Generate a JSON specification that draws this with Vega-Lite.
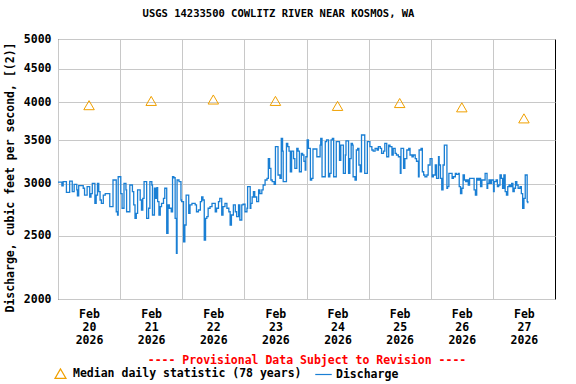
{
  "$schema": "https://vega.github.io/schema/vega-lite/v6.json",
  "width": 497,
  "height": 260,
  "autosize": "none",
  "padding": {"left": 58, "top": 39, "right": 21, "bottom": 85},
  "background": "white",
  "config": {
    "font": "DejaVu Sans Mono",
    "view": {"stroke": "#000000", "strokeWidth": 1},
    "axis": {"labelFont": "DejaVu Sans Mono", "labelFontWeight": "bold", "labelFontSize": 11.5, "labelColor": "#000000", "titleFont": "DejaVu Sans Mono", "titleFontWeight": "bold", "titleFontSize": 11.5, "titleColor": "#000000", "gridColor": "#c8c8c8", "gridOpacity": 1, "gridWidth": 1, "domain": false, "ticks": false},
    "legend": {"labelFont": "DejaVu Sans Mono", "labelFontWeight": "bold", "labelFontSize": 11.5, "labelColor": "#000000", "labelLimit": 0}
  },
  "title": {"text": "USGS 14233500 COWLITZ RIVER NEAR KOSMOS, WA", "font": "DejaVu Sans Mono", "fontWeight": "bold", "fontSize": 10.5, "color": "#000000", "anchor": "middle", "dx": -28, "offset": 14},
  "datasets": {
    "median": [
      {"t": "2026-02-20T12:00", "v": 3960, "s": "Median daily statistic (78 years)"},
      {"t": "2026-02-21T12:00", "v": 4020, "s": "Median daily statistic (78 years)"},
      {"t": "2026-02-22T12:00", "v": 4040, "s": "Median daily statistic (78 years)"},
      {"t": "2026-02-23T12:00", "v": 4020, "s": "Median daily statistic (78 years)"},
      {"t": "2026-02-24T12:00", "v": 3950, "s": "Median daily statistic (78 years)"},
      {"t": "2026-02-25T12:00", "v": 3990, "s": "Median daily statistic (78 years)"},
      {"t": "2026-02-26T12:00", "v": 3930, "s": "Median daily statistic (78 years)"},
      {"t": "2026-02-27T12:00", "v": 3780, "s": "Median daily statistic (78 years)"}
    ],
    "q": [
      {"t": "2026-02-20T00:00", "v": 3020}, {"t": "2026-02-20T01:30", "v": 2980}, {"t": "2026-02-20T02:00", "v": 3024}, {"t": "2026-02-20T03:15", "v": 2913},
      {"t": "2026-02-20T04:30", "v": 3031}, {"t": "2026-02-20T05:30", "v": 2920}, {"t": "2026-02-20T06:15", "v": 2996}, {"t": "2026-02-20T07:15", "v": 2937},
      {"t": "2026-02-20T07:30", "v": 2878}, {"t": "2026-02-20T08:00", "v": 2982}, {"t": "2026-02-20T09:45", "v": 2955}, {"t": "2026-02-20T10:15", "v": 2885},
      {"t": "2026-02-20T11:15", "v": 2971}, {"t": "2026-02-20T12:15", "v": 2865}, {"t": "2026-02-20T12:45", "v": 2900}, {"t": "2026-02-20T13:15", "v": 3006},
      {"t": "2026-02-20T14:15", "v": 2802}, {"t": "2026-02-20T14:45", "v": 2885}, {"t": "2026-02-20T15:15", "v": 3006}, {"t": "2026-02-20T15:45", "v": 2920},
      {"t": "2026-02-20T16:15", "v": 2835}, {"t": "2026-02-20T16:45", "v": 2802}, {"t": "2026-02-20T17:30", "v": 2885}, {"t": "2026-02-20T18:15", "v": 2900},
      {"t": "2026-02-20T20:00", "v": 2770}, {"t": "2026-02-20T21:15", "v": 3042}, {"t": "2026-02-20T22:30", "v": 2720}, {"t": "2026-02-20T23:00", "v": 2689},
      {"t": "2026-02-20T23:15", "v": 3077},
      {"t": "2026-02-21T00:15", "v": 2900}, {"t": "2026-02-21T00:45", "v": 2754}, {"t": "2026-02-21T01:30", "v": 3006}, {"t": "2026-02-21T02:15", "v": 2937},
      {"t": "2026-02-21T02:30", "v": 2720}, {"t": "2026-02-21T03:45", "v": 2989}, {"t": "2026-02-21T04:45", "v": 2920}, {"t": "2026-02-21T05:15", "v": 2786},
      {"t": "2026-02-21T05:45", "v": 2658}, {"t": "2026-02-21T06:15", "v": 2705}, {"t": "2026-02-21T06:45", "v": 2937}, {"t": "2026-02-21T07:45", "v": 2835},
      {"t": "2026-02-21T08:15", "v": 2737}, {"t": "2026-02-21T08:45", "v": 2852}, {"t": "2026-02-21T09:15", "v": 3024}, {"t": "2026-02-21T10:15", "v": 2658},
      {"t": "2026-02-21T11:00", "v": 2754}, {"t": "2026-02-21T11:30", "v": 3024}, {"t": "2026-02-21T12:15", "v": 2989}, {"t": "2026-02-21T12:30", "v": 2689},
      {"t": "2026-02-21T13:15", "v": 2955}, {"t": "2026-02-21T13:45", "v": 2852}, {"t": "2026-02-21T14:15", "v": 2961}, {"t": "2026-02-21T14:30", "v": 2818},
      {"t": "2026-02-21T15:00", "v": 2689}, {"t": "2026-02-21T15:30", "v": 2770}, {"t": "2026-02-21T16:00", "v": 2802}, {"t": "2026-02-21T16:45", "v": 2852},
      {"t": "2026-02-21T17:15", "v": 2955}, {"t": "2026-02-21T18:00", "v": 2521}, {"t": "2026-02-21T18:30", "v": 2786}, {"t": "2026-02-21T19:00", "v": 2754},
      {"t": "2026-02-21T19:45", "v": 2720}, {"t": "2026-02-21T20:15", "v": 3077}, {"t": "2026-02-21T20:45", "v": 3066}, {"t": "2026-02-21T21:15", "v": 2658},
      {"t": "2026-02-21T21:45", "v": 2350}, {"t": "2026-02-21T22:00", "v": 3042}, {"t": "2026-02-21T22:45", "v": 3024}, {"t": "2026-02-21T23:30", "v": 2835},
      {"t": "2026-02-21T23:45", "v": 2818},
      {"t": "2026-02-22T00:30", "v": 2447}, {"t": "2026-02-22T01:00", "v": 2596}, {"t": "2026-02-22T01:30", "v": 2885}, {"t": "2026-02-22T02:30", "v": 2705},
      {"t": "2026-02-22T03:00", "v": 2786}, {"t": "2026-02-22T03:45", "v": 2802}, {"t": "2026-02-22T05:00", "v": 2786}, {"t": "2026-02-22T05:30", "v": 2720},
      {"t": "2026-02-22T06:15", "v": 2737}, {"t": "2026-02-22T07:00", "v": 2818}, {"t": "2026-02-22T07:30", "v": 2865}, {"t": "2026-02-22T08:00", "v": 2835},
      {"t": "2026-02-22T08:30", "v": 2462}, {"t": "2026-02-22T09:00", "v": 2658}, {"t": "2026-02-22T09:30", "v": 2673}, {"t": "2026-02-22T10:00", "v": 2754},
      {"t": "2026-02-22T10:45", "v": 2770}, {"t": "2026-02-22T11:30", "v": 2802}, {"t": "2026-02-22T12:45", "v": 2720}, {"t": "2026-02-22T13:15", "v": 2754},
      {"t": "2026-02-22T14:00", "v": 2818}, {"t": "2026-02-22T14:30", "v": 2852}, {"t": "2026-02-22T15:15", "v": 2689}, {"t": "2026-02-22T15:45", "v": 2770},
      {"t": "2026-02-22T16:30", "v": 2802}, {"t": "2026-02-22T17:15", "v": 2754}, {"t": "2026-02-22T18:00", "v": 2720}, {"t": "2026-02-22T18:30", "v": 2596},
      {"t": "2026-02-22T19:00", "v": 2689}, {"t": "2026-02-22T19:45", "v": 2786}, {"t": "2026-02-22T20:30", "v": 2720}, {"t": "2026-02-22T21:00", "v": 2673},
      {"t": "2026-02-22T21:45", "v": 2786}, {"t": "2026-02-22T22:15", "v": 2642}, {"t": "2026-02-22T23:00", "v": 2786}, {"t": "2026-02-22T23:30", "v": 2793},
      {"t": "2026-02-23T00:15", "v": 2720}, {"t": "2026-02-23T01:00", "v": 2754}, {"t": "2026-02-23T01:15", "v": 2971}, {"t": "2026-02-23T02:15", "v": 2754},
      {"t": "2026-02-23T02:30", "v": 2802}, {"t": "2026-02-23T03:00", "v": 2865}, {"t": "2026-02-23T03:30", "v": 2920}, {"t": "2026-02-23T04:00", "v": 2865},
      {"t": "2026-02-23T04:45", "v": 2818}, {"t": "2026-02-23T05:30", "v": 2937}, {"t": "2026-02-23T06:00", "v": 2900}, {"t": "2026-02-23T06:45", "v": 2937},
      {"t": "2026-02-23T07:15", "v": 2989}, {"t": "2026-02-23T08:00", "v": 3042}, {"t": "2026-02-23T08:45", "v": 3060}, {"t": "2026-02-23T09:15", "v": 3280},
      {"t": "2026-02-23T09:45", "v": 3170}, {"t": "2026-02-23T10:15", "v": 3042}, {"t": "2026-02-23T10:45", "v": 3024}, {"t": "2026-02-23T11:30", "v": 2996},
      {"t": "2026-02-23T12:00", "v": 3421}, {"t": "2026-02-23T13:00", "v": 3096}, {"t": "2026-02-23T13:45", "v": 3060}, {"t": "2026-02-23T14:15", "v": 3523},
      {"t": "2026-02-23T14:45", "v": 3369}, {"t": "2026-02-23T15:00", "v": 3024}, {"t": "2026-02-23T16:15", "v": 3461}, {"t": "2026-02-23T16:45", "v": 3421},
      {"t": "2026-02-23T17:15", "v": 3369}, {"t": "2026-02-23T17:45", "v": 3132}, {"t": "2026-02-23T18:15", "v": 3369}, {"t": "2026-02-23T19:00", "v": 3280},
      {"t": "2026-02-23T19:30", "v": 3170}, {"t": "2026-02-23T20:15", "v": 3401}, {"t": "2026-02-23T20:45", "v": 3369}, {"t": "2026-02-23T21:15", "v": 3132},
      {"t": "2026-02-23T22:00", "v": 3342}, {"t": "2026-02-23T22:30", "v": 3322}, {"t": "2026-02-23T23:00", "v": 3250}, {"t": "2026-02-23T23:30", "v": 3151},
      {"t": "2026-02-23T23:45", "v": 3302},
      {"t": "2026-02-24T00:15", "v": 3503}, {"t": "2026-02-24T00:45", "v": 3401}, {"t": "2026-02-24T01:30", "v": 3042}, {"t": "2026-02-24T02:00", "v": 3060},
      {"t": "2026-02-24T02:30", "v": 3393}, {"t": "2026-02-24T04:00", "v": 3302}, {"t": "2026-02-24T05:15", "v": 3441}, {"t": "2026-02-24T05:30", "v": 3523},
      {"t": "2026-02-24T06:00", "v": 3077}, {"t": "2026-02-24T07:15", "v": 3482}, {"t": "2026-02-24T07:45", "v": 3503}, {"t": "2026-02-24T08:30", "v": 3077},
      {"t": "2026-02-24T09:00", "v": 3114}, {"t": "2026-02-24T09:30", "v": 3503}, {"t": "2026-02-24T10:00", "v": 3523}, {"t": "2026-02-24T10:30", "v": 3077},
      {"t": "2026-02-24T11:30", "v": 3482}, {"t": "2026-02-24T12:45", "v": 3260}, {"t": "2026-02-24T13:15", "v": 3441}, {"t": "2026-02-24T14:15", "v": 3114},
      {"t": "2026-02-24T15:00", "v": 3322}, {"t": "2026-02-24T15:15", "v": 3491}, {"t": "2026-02-24T16:15", "v": 3114}, {"t": "2026-02-24T16:45", "v": 3280},
      {"t": "2026-02-24T17:15", "v": 3461}, {"t": "2026-02-24T17:45", "v": 3441}, {"t": "2026-02-24T18:00", "v": 3077}, {"t": "2026-02-24T18:45", "v": 3042},
      {"t": "2026-02-24T19:15", "v": 3381}, {"t": "2026-02-24T19:45", "v": 3401}, {"t": "2026-02-24T20:15", "v": 3207}, {"t": "2026-02-24T20:45", "v": 3132},
      {"t": "2026-02-24T21:15", "v": 3565}, {"t": "2026-02-24T22:30", "v": 3114}, {"t": "2026-02-24T23:30", "v": 3482},
      {"t": "2026-02-25T00:30", "v": 3421}, {"t": "2026-02-25T01:15", "v": 3381}, {"t": "2026-02-25T01:45", "v": 3369}, {"t": "2026-02-25T02:30", "v": 3401},
      {"t": "2026-02-25T03:15", "v": 3381}, {"t": "2026-02-25T03:45", "v": 3421}, {"t": "2026-02-25T04:30", "v": 3401}, {"t": "2026-02-25T05:00", "v": 3342},
      {"t": "2026-02-25T05:45", "v": 3369}, {"t": "2026-02-25T06:15", "v": 3461}, {"t": "2026-02-25T07:00", "v": 3302}, {"t": "2026-02-25T07:45", "v": 3441},
      {"t": "2026-02-25T08:15", "v": 3421}, {"t": "2026-02-25T09:00", "v": 3322}, {"t": "2026-02-25T09:30", "v": 3401}, {"t": "2026-02-25T10:15", "v": 3342},
      {"t": "2026-02-25T10:45", "v": 3322}, {"t": "2026-02-25T11:30", "v": 3302}, {"t": "2026-02-25T12:15", "v": 3114}, {"t": "2026-02-25T12:30", "v": 3401},
      {"t": "2026-02-25T13:30", "v": 3170}, {"t": "2026-02-25T14:00", "v": 3280}, {"t": "2026-02-25T14:45", "v": 3381}, {"t": "2026-02-25T15:30", "v": 3401},
      {"t": "2026-02-25T16:00", "v": 3322}, {"t": "2026-02-25T16:45", "v": 3302}, {"t": "2026-02-25T17:15", "v": 3322}, {"t": "2026-02-25T18:00", "v": 3280},
      {"t": "2026-02-25T18:30", "v": 3250}, {"t": "2026-02-25T19:15", "v": 3077}, {"t": "2026-02-25T19:30", "v": 3381}, {"t": "2026-02-25T20:15", "v": 3401},
      {"t": "2026-02-25T20:45", "v": 3132}, {"t": "2026-02-25T21:15", "v": 3096}, {"t": "2026-02-25T21:45", "v": 3077}, {"t": "2026-02-25T22:30", "v": 3096},
      {"t": "2026-02-25T23:00", "v": 3207}, {"t": "2026-02-25T23:45", "v": 3280},
      {"t": "2026-02-26T00:30", "v": 3077}, {"t": "2026-02-26T01:00", "v": 3096}, {"t": "2026-02-26T01:45", "v": 3207}, {"t": "2026-02-26T02:15", "v": 3060},
      {"t": "2026-02-26T03:00", "v": 3302}, {"t": "2026-02-26T03:15", "v": 3207}, {"t": "2026-02-26T03:45", "v": 3060}, {"t": "2026-02-26T04:15", "v": 2937},
      {"t": "2026-02-26T04:45", "v": 3207}, {"t": "2026-02-26T05:15", "v": 3441}, {"t": "2026-02-26T06:15", "v": 2955}, {"t": "2026-02-26T06:30", "v": 2971},
      {"t": "2026-02-26T07:00", "v": 3114}, {"t": "2026-02-26T08:15", "v": 3060}, {"t": "2026-02-26T08:45", "v": 3077}, {"t": "2026-02-26T09:30", "v": 3114},
      {"t": "2026-02-26T10:00", "v": 3103}, {"t": "2026-02-26T10:45", "v": 3114}, {"t": "2026-02-26T11:00", "v": 2971}, {"t": "2026-02-26T11:30", "v": 2900},
      {"t": "2026-02-26T12:00", "v": 2955}, {"t": "2026-02-26T12:30", "v": 3096}, {"t": "2026-02-26T13:00", "v": 3042}, {"t": "2026-02-26T13:30", "v": 3024},
      {"t": "2026-02-26T14:00", "v": 3042}, {"t": "2026-02-26T14:30", "v": 2989}, {"t": "2026-02-26T15:00", "v": 3060}, {"t": "2026-02-26T16:45", "v": 2937},
      {"t": "2026-02-26T17:15", "v": 2885}, {"t": "2026-02-26T17:45", "v": 3060}, {"t": "2026-02-26T18:15", "v": 3042}, {"t": "2026-02-26T18:45", "v": 3060},
      {"t": "2026-02-26T19:15", "v": 2971}, {"t": "2026-02-26T19:45", "v": 3042}, {"t": "2026-02-26T21:00", "v": 3114}, {"t": "2026-02-26T21:45", "v": 2955},
      {"t": "2026-02-26T22:00", "v": 3006}, {"t": "2026-02-26T22:30", "v": 3042}, {"t": "2026-02-26T23:00", "v": 3006}, {"t": "2026-02-26T23:30", "v": 3042},
      {"t": "2026-02-27T00:15", "v": 2920}, {"t": "2026-02-27T00:30", "v": 3024}, {"t": "2026-02-27T01:15", "v": 3042}, {"t": "2026-02-27T01:45", "v": 2971},
      {"t": "2026-02-27T02:15", "v": 2989}, {"t": "2026-02-27T02:45", "v": 3096}, {"t": "2026-02-27T03:15", "v": 3060}, {"t": "2026-02-27T03:45", "v": 2955},
      {"t": "2026-02-27T04:15", "v": 3096}, {"t": "2026-02-27T04:45", "v": 2920}, {"t": "2026-02-27T05:15", "v": 2885}, {"t": "2026-02-27T05:45", "v": 2971},
      {"t": "2026-02-27T06:15", "v": 2989}, {"t": "2026-02-27T06:45", "v": 2971}, {"t": "2026-02-27T07:15", "v": 3006}, {"t": "2026-02-27T07:45", "v": 2920},
      {"t": "2026-02-27T08:15", "v": 2955}, {"t": "2026-02-27T08:45", "v": 3024}, {"t": "2026-02-27T09:15", "v": 2989}, {"t": "2026-02-27T09:45", "v": 2955},
      {"t": "2026-02-27T10:30", "v": 2971}, {"t": "2026-02-27T11:00", "v": 2900}, {"t": "2026-02-27T11:30", "v": 2754}, {"t": "2026-02-27T12:00", "v": 2852},
      {"t": "2026-02-27T12:30", "v": 3096}, {"t": "2026-02-27T13:15", "v": 2818}, {"t": "2026-02-27T13:30", "v": 2802}
    ]
  },
  "encoding": {
    "x": {
      "field": "t", "type": "temporal",
      "scale": {"domain": [{"year": 2026, "month": 2, "date": 20}, {"year": 2026, "month": 2, "date": 28}]},
      "axis": {
        "values": [
          {"year": 2026, "month": 2, "date": 20}, {"year": 2026, "month": 2, "date": 21}, {"year": 2026, "month": 2, "date": 22}, {"year": 2026, "month": 2, "date": 23},
          {"year": 2026, "month": 2, "date": 24}, {"year": 2026, "month": 2, "date": 25}, {"year": 2026, "month": 2, "date": 26}, {"year": 2026, "month": 2, "date": 27}
        ],
        "grid": true,
        "labelExpr": "[timeFormat(datum.value, '%b'), timeFormat(datum.value, '%d'), timeFormat(datum.value, '%Y')]",
        "labelOffset": 31,
        "labelFlush": false,
        "labelOverlap": false,
        "labelPadding": 9,
        "labelLineHeight": 13,
        "labelBaseline": "top",
        "title": "---- Provisional Data Subject to Revision ----",
        "titleColor": "#ff0000",
        "titlePadding": 9
      }
    },
    "y": {
      "field": "v", "type": "quantitative",
      "scale": {"type": "log", "domain": [2000, 5000], "nice": false, "zero": false},
      "axis": {
        "values": [2000, 2500, 3000, 3500, 4000, 4500, 5000],
        "format": "d",
        "grid": true,
        "labelPadding": 7,
        "title": "Discharge, cubic feet per second, [(2)]",
        "titleX": -48,
        "titleY": 138,
        "titleAngle": -90,
        "titleAlign": "center",
        "titleBaseline": "middle"
      }
    }
  },
  "layer": [
    {
      "data": {"name": "q"},
      "mark": {"type": "line", "interpolate": "step-after", "strokeWidth": 1.3},
      "encoding": {
        "color": {"datum": "Discharge", "type": "nominal"}
      }
    },
    {
      "data": {"name": "median"},
      "mark": {"type": "point", "filled": false, "size": 110, "strokeWidth": 1, "opacity": 1},
      "encoding": {
        "color": {
          "field": "s", "type": "nominal",
          "scale": {"domain": ["Median daily statistic (78 years)", "Discharge"], "range": ["#f0a000", "#1a7fd4"]},
          "legend": {"orient": "none", "legendX": -4, "legendY": 328, "direction": "horizontal", "title": null, "symbolSize": 121, "symbolStrokeWidth": 1.2, "columnPadding": 10, "labelOffset": 6, "labelLimit": 0}
        },
        "shape": {
          "field": "s", "type": "nominal",
          "scale": {"domain": ["Median daily statistic (78 years)", "Discharge"], "range": ["triangle-up", "M-1.5,0H1.5"]},
          "legend": {"orient": "none", "legendX": -4, "legendY": 328, "direction": "horizontal", "title": null, "symbolSize": 121, "symbolStrokeWidth": 1.2, "columnPadding": 10, "labelOffset": 6, "labelLimit": 0}
        }
      }
    }
  ]
}
